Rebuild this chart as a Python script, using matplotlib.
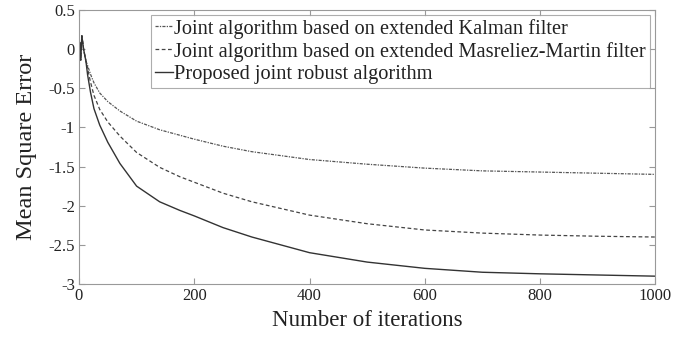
import matplotlib
matplotlib.use("Agg")
import matplotlib.pyplot as plt
import numpy as np

plt.rcParams['font.family'] = ['Liberation Serif', 'DejaVu Serif']
plt.rcParams['mathtext.fontset'] = 'stix'

# Iterations at which values were read
iters = [0, 1, 2, 3, 5, 8, 12, 15, 20, 26, 36, 50, 71, 100, 140, 175, 200, 250, 300,
         400, 500, 600, 700, 800, 900, 1000]

spike = [0.05, -0.12, 0.08, -0.14, 0.17, 0.0, -0.15]

kalman = spike + [-0.21, -0.32, -0.43, -0.56, -0.67, -0.79, -0.92, -1.03, -1.10, -1.15,
                  -1.24, -1.31, -1.41, -1.47, -1.52, -1.555, -1.57, -1.585, -1.60]
masreliez = spike + [-0.25, -0.42, -0.59, -0.77, -0.93, -1.11, -1.32, -1.51, -1.63, -1.70,
                     -1.84, -1.95, -2.12, -2.23, -2.31, -2.35, -2.375, -2.39, -2.40]
proposed = spike + [-0.33, -0.55, -0.76, -0.97, -1.19, -1.46, -1.75, -1.95, -2.06, -2.13,
                    -2.28, -2.40, -2.60, -2.72, -2.80, -2.85, -2.87, -2.885, -2.90]

labels = ["Joint algorithm based on extended Kalman filter",
          "Joint algorithm based on extended Masreliez-Martin filter",
          "Proposed joint robust algorithm"]

xticks = [0, 200, 400, 600, 800, 1000]
yticks = [0.5, 0, -0.5, -1, -1.5, -2, -2.5, -3]
ytick_labels = ["0.5", "0", "-0.5", "-1", "-1.5", "-2", "-2.5", "-3"]

fig = plt.figure(figsize=(6.97, 3.42), dpi=100)
ax = fig.add_axes([0.1133, 0.1696, 0.8269, 0.8012])

ax.plot(iters, kalman, color='#555555', lw=0.9, ls=(0, (2.5, 1, 1, 1)), label=labels[0])
ax.plot(iters, masreliez, color='#444444', lw=0.9, ls=(0, (3, 2)), label=labels[1])
ax.plot(iters, proposed, color='#333333', lw=1.0, ls='-', label=labels[2])

ax.set_xlim(0, 1000)
ax.set_ylim(-3, 0.5)
ax.set_xticks(xticks)
ax.set_yticks(yticks)
ax.set_yticklabels(ytick_labels)
ax.tick_params(direction='in', top=True, right=True, labelsize=12, length=4,
               color='#999999', labelcolor='#222222', pad=3)
for s in ax.spines.values():
    s.set_color('#999999')
    s.set_linewidth(0.8)

ax.set_xlabel("Number of iterations", fontsize=16.5, color='#222222', labelpad=4)
ax.set_ylabel("Mean Square Error", fontsize=17.5, color='#222222', labelpad=8)

leg = ax.legend(loc='upper right', bbox_to_anchor=(0.99, 0.983), fontsize=14.7,
                frameon=True, fancybox=False, handlelength=0.85, handletextpad=0.05,
                borderpad=0.2, labelspacing=0.15, borderaxespad=0.0)
leg.get_frame().set_edgecolor('#999999')
leg.get_frame().set_linewidth(0.8)
for t in leg.get_texts():
    t.set_color('#222222')

fig.savefig("out.png", dpi=100)
